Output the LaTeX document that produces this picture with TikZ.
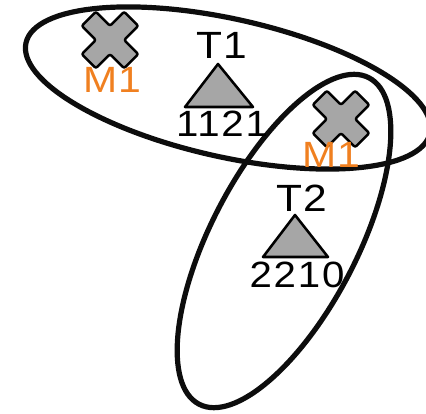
\documentclass[tikz,border=0pt]{standalone}
\usepackage{fontspec}
\setmainfont{Liberation Sans}
\newfontfamily\labelfont[FakeStretch=1.12, LetterSpace=3]{Liberation Sans}
\newfontfamily\countfont[FakeStretch=1.1, LetterSpace=5]{Liberation Sans}
\usetikzlibrary{positioning}
\definecolor{mutorange}{RGB}{240,128,32}
\definecolor{markgray}{RGB}{166,166,166}

\tikzset{
  clade/.style={line width=3.7pt, black!95},
  marker/.style={fill=markgray, draw=black, line width=1.8pt, line join=round},
  mutlabel/.style={text=mutorange, font=\labelfont\fontsize{26}{29}\selectfont, inner sep=0pt},
  treelabel/.style={font=\labelfont\fontsize{27}{30}\selectfont, inner sep=0pt},
  countlabel/.style={font=\countfont\fontsize{26}{29}\selectfont, inner sep=0pt}
}

\begin{document}
\begin{tikzpicture}[x=0.25mm, y=0.25mm]
  \useasboundingbox (0,0) rectangle (426,413);

  % Clusters
  \draw[clade, rotate around={-12.6:(228,325)}] (228,325) ellipse (207 and 69);
  \draw[clade, rotate around={-27.5:(284,172)}] (284,172) ellipse (73 and 184);

  % Mutations (crosses)
  \foreach \name/\cx/\cy/\lx/\ly in {m1a/110/373/112/333, m1b/341/294/331/258} {
    \begin{scope}[shift={(\cx,\cy)}, rotate=45]
      \draw[marker, rounded corners=1.5pt] (10,10) -- (30,10) -- (30,-10) -- (10,-10) -- (10,-30) -- (-10,-30)
        -- (-10,-10) -- (-30,-10) -- (-30,10) -- (-10,10) -- (-10,30) -- (10,30) -- cycle;
    \end{scope}
    \node[mutlabel] (\name) at (\lx,\ly) {M1};
  }

  % Tree T1
  \node[treelabel] (t1) at (222,368) {T1};
  \draw[marker] (218,349) -- (253,306) -- (185,306) -- cycle;
  \node[countlabel] (c1) at (222,289) {1121};

  % Tree T2
  \node[treelabel] (t2) at (302,215) {T2};
  \draw[marker] (295,198) -- (328,156) -- (263,156) -- cycle;
  \node[countlabel] (c2) at (297,138) {2210};
\end{tikzpicture}
\end{document}
